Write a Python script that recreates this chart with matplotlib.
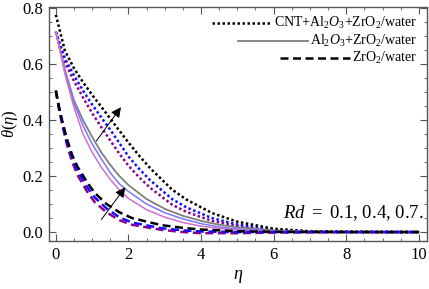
import matplotlib
matplotlib.use('Agg')
import matplotlib.pyplot as plt
from matplotlib.ticker import MultipleLocator

plt.rcParams['font.family'] = ['Liberation Serif', 'DejaVu Serif']
plt.rcParams['mathtext.fontset'] = 'custom'
plt.rcParams['mathtext.rm'] = 'Liberation Serif'
plt.rcParams['mathtext.it'] = 'Liberation Serif:italic'

# CNT+Al2O3+ZrO2/water (dotted), Rd = 0.7, 0.4, 0.1
eta_dot = [0, 0.25, 0.5, 0.75, 1.0, 1.25, 1.5, 1.75, 2.0, 2.3, 2.6, 3.2, 3.6, 4.3, 5, 6, 7, 8, 10]
dot_black = [0.776, 0.648, 0.585, 0.535, 0.49, 0.448, 0.405, 0.362, 0.32, 0.272, 0.228, 0.152, 0.116, 0.068, 0.037, 0.012, 0.003, 0.001, 0]
dot_blue = [0.715, 0.62, 0.56, 0.505, 0.455, 0.41, 0.365, 0.318, 0.27, 0.225, 0.185, 0.118, 0.088, 0.05, 0.027, 0.008, 0.002, 0.001, 0]
dot_purple = [0.715, 0.605, 0.54, 0.48, 0.425, 0.375, 0.327, 0.28, 0.237, 0.195, 0.158, 0.098, 0.072, 0.04, 0.021, 0.005, 0.001, 0, 0]

# Al2O3+ZrO2/water (solid)
eta_sol = [0, 0.25, 0.5, 0.75, 1, 1.25, 1.5, 1.75, 2, 2.5, 3, 3.5, 4, 4.5, 5, 6, 7, 8, 10]
sol_gray = [0.715, 0.58, 0.47, 0.40, 0.34, 0.285, 0.24, 0.20, 0.168, 0.118, 0.083, 0.058, 0.04, 0.026, 0.017, 0.006, 0.002, 0.001, 0]
sol_blue = [0.715, 0.575, 0.46, 0.38, 0.315, 0.262, 0.212, 0.172, 0.145, 0.1, 0.069, 0.047, 0.03, 0.018, 0.011, 0.003, 0.001, 0, 0]
sol_pink = [0.715, 0.565, 0.445, 0.35, 0.285, 0.232, 0.188, 0.15, 0.12, 0.08, 0.053, 0.034, 0.021, 0.013, 0.008, 0.002, 0.001, 0, 0]

# ZrO2/water (dashed)
eta_das = [0, 0.1, 0.2, 0.3, 0.45, 0.6, 0.85, 1.07, 1.4, 1.76, 2.1, 2.9, 3.5, 4, 5, 6, 8, 10]
das_black = [0.505, 0.44, 0.385, 0.335, 0.275, 0.233, 0.18, 0.14, 0.1, 0.07, 0.05, 0.025, 0.015, 0.009, 0.003, 0.001, 0, 0]
das_blue = [0.505, 0.435, 0.378, 0.325, 0.263, 0.218, 0.163, 0.124, 0.084, 0.052, 0.034, 0.014, 0.006, 0.002, 0.0, 0, 0, 0]
das_purple = [0.505, 0.43, 0.37, 0.315, 0.25, 0.203, 0.147, 0.107, 0.07, 0.042, 0.026, 0.008, 0.0, -0.004, -0.004, -0.002, 0, 0]

labels = [r'CNT+Al$_2$$\mathit{O}_3$+ZrO$_2$/water',
          r'Al$_2$$\mathit{O}_3$+ZrO$_2$/water',
          r'ZrO$_2$/water']

fig = plt.figure(figsize=(4.29, 2.89), dpi=100)
ax = fig.add_axes([0.114, 0.166, 0.881, 0.810])

dotted = (0, (1.0, 1.0))
dashed = (0, (3.2, 1.8))
ax.plot(eta_dot, dot_purple, color='#900090', lw=1.8, ls=dotted)
ax.plot(eta_dot, dot_blue, color='#1010ff', lw=1.8, ls=dotted)
ax.plot(eta_dot, dot_black, color='black', lw=1.8, ls=dotted)
ax.plot(eta_sol, sol_gray, color='#7f7f7f', lw=1.3)
ax.plot(eta_sol, sol_blue, color='#7878ff', lw=1.1)
ax.plot(eta_sol, sol_pink, color='#d070d0', lw=1.1)
ax.plot(eta_das, das_purple, color='#900090', lw=1.8, ls=dashed)
ax.plot(eta_das, das_blue, color='#1010ff', lw=1.8, ls=dashed)
ax.plot(eta_das, das_black, color='black', lw=1.8, ls=dashed)

arrow = dict(arrowstyle='-|>', color='black', lw=0.7, mutation_scale=15)
ax.annotate('', xy=(1.84, 0.454), xytext=(1.07, 0.317), arrowprops=arrow)
ax.annotate('', xy=(1.96, 0.168), xytext=(1.21, 0.037), arrowprops=arrow)

ax.text(10.12, 0.068, r'$Rd\ =$ 0.1, 0.4, 0.7.', fontsize=13.5, ha='right', va='center')

ax.set_xlim(-0.19, 10.22)
ax.set_ylim(-0.032, 0.804)
ax.xaxis.set_major_locator(MultipleLocator(2))
ax.xaxis.set_minor_locator(MultipleLocator(0.5))
ax.yaxis.set_major_locator(MultipleLocator(0.2))
ax.yaxis.set_minor_locator(MultipleLocator(0.05))
ax.yaxis.set_major_formatter(plt.FuncFormatter(lambda v, p: '%.1f' % v))
ax.tick_params(which='both', direction='in', top=True, right=True, color='#555555',
               labelsize=12, pad=4)
ax.tick_params(which='major', length=5, width=0.8)
ax.tick_params(which='minor', length=2.5, width=0.6)
for s in ax.spines.values():
    s.set_color('#555555')
    s.set_linewidth(1.0)

ax.set_xlabel(r'$\eta$', fontsize=13, labelpad=4)
ax.set_ylabel(r'$\theta(\eta)$', fontsize=12, labelpad=2)

# legend, right aligned text with the line sample just left of it
rows = [0.932, 0.855, 0.782]
styles = [dict(color='black', lw=1.8, ls=dotted),
          dict(color='#7f7f7f', lw=1.3),
          dict(color='black', lw=1.8, ls=dashed)]
lengths = [60, 70, 70]
fig.canvas.draw()
r = fig.canvas.get_renderer()
axw = ax.get_window_extent().width
for lab, yy, st, ln in zip(labels, rows, styles, lengths):
    t = ax.text(0.974, yy, lab, fontsize=10, ha='right', va='center', transform=ax.transAxes)
    bb = t.get_window_extent(r)
    x1 = 0.974 - bb.width / axw - 2 / axw
    ax.plot([x1 - ln / axw, x1], [yy, yy], transform=ax.transAxes, **st)

fig.savefig('out.png', dpi=100)
